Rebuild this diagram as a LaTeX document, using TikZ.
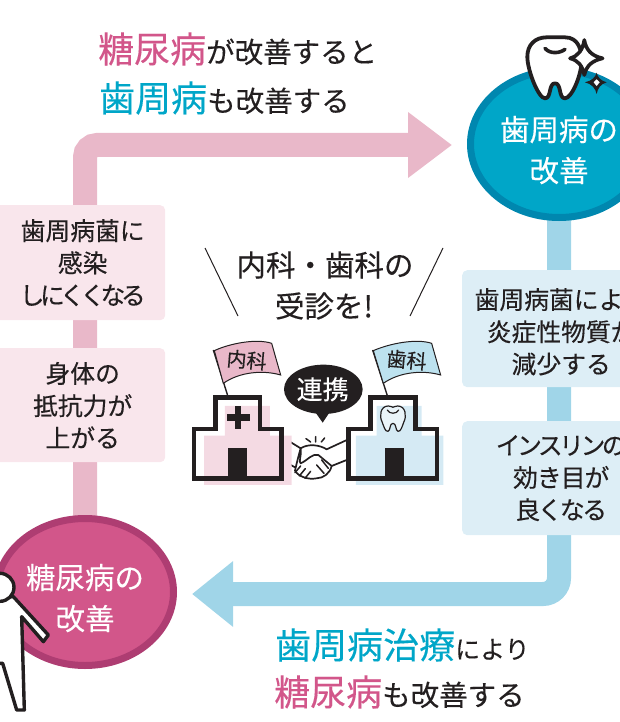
\documentclass[tikz,border=0pt]{standalone}
\usepackage{fontspec}
\setmainfont{Noto Sans CJK JP}[FakeBold=0.25]
\usetikzlibrary{shapes.geometric,arrows.meta,backgrounds,calc}
\definecolor{ink}{HTML}{231F20}
\definecolor{rosefill}{HTML}{D2568A}
\definecolor{roseedge}{HTML}{AE3D72}
\definecolor{roseband}{HTML}{E9B8C9}
\definecolor{rosebox}{HTML}{F9E6EC}
\definecolor{rosetint}{HTML}{F4DAE3}
\definecolor{tealfill}{HTML}{00A6C8}
\definecolor{tealedge}{HTML}{0087AF}
\definecolor{tealband}{HTML}{A0D5E8}
\definecolor{tealbox}{HTML}{DDEEF6}
\definecolor{tealtint}{HTML}{D5EAF4}
\newcommand{\fs}[1]{\fontsize{#1}{#1}\selectfont}
\newcommand{\narrow}[2]{{\addfontfeature{LetterSpace=#1}#2}}
\tikzset{
  x=1pt,y=-1pt,
  blob/.style={ellipse,draw,line width=7pt,minimum width=177pt,minimum height=147pt,inner sep=0pt,
    text=white,align=center,font=\fs{29.5}\linespread{1.39}\selectfont},
  infobox/.style={rounded corners=5pt,inner sep=0pt,text=ink,align=center,anchor=north west,
    font=\fs{24.8}\linespread{1.3}\selectfont},
  headline/.style={anchor=west,inner sep=0pt,text=ink,font=\fs{28.5}},
  centre/.style={inner sep=0pt,text=ink,font=\fs{29.5}},
  band/.style={line width=24pt},
  thick line/.style={draw=ink,line width=4.6pt,line join=miter},
  icon/.style={draw=ink,line width=1.6pt,line join=round,line cap=round},
}
\begin{document}
\begin{tikzpicture}
\useasboundingbox (0,0) rectangle (619,722);

% Result circles
\node[blob,draw=tealedge,fill=tealfill] (perio) at (559,144) {\rule{0pt}{37pt}歯周病の\\改善};
\node[blob,draw=roseedge,fill=rosefill] (diab) at (85,592) {\rule{0pt}{37pt}糖尿病の\\改善};

% Explanation panels
\node[infobox,fill=rosebox,minimum width=170pt,minimum height=115pt] (pa) at (-5,205)
  {\hspace*{5pt}歯周病菌に\\\hspace*{5pt}感染\\\hspace*{5pt}\narrow{-18}{しにくくなる}};
\node[infobox,fill=rosebox,minimum width=170pt,minimum height=114pt] (pb) at (-5,348)
  {\hspace*{5pt}身体の\\\hspace*{5pt}抵抗力が\\\hspace*{5pt}上がる};
\node[infobox,fill=tealbox,minimum width=198pt,minimum height=117pt] (ba) at (462,270)
  {\rule{0pt}{27pt}歯周病菌により\\炎症性物質が\\減少する};
\node[infobox,fill=tealbox,minimum width=198pt,minimum height=114pt] (bb) at (462,421)
  {\narrow{-14}{インスリンの}\\\narrow{-4}{効き目が}\\\narrow{-10}{良くなる}};

% Cycle arrows behind the circles and panels
\coordinate (rosetip) at (452,145);
\coordinate (tealtip) at (192,594);
\begin{scope}[on background layer]
  \draw[band,rounded corners=12pt,draw=roseband,-{Triangle[length=44pt,width=63pt]}] (diab.center) |- (rosetip);
  \draw[band,rounded corners=16pt,draw=tealband,-{Triangle[length=41pt,width=63pt]}] (perio.center) |- (tealtip);
\end{scope}

% Headlines
\node[headline] (h1) at (98,49) {\textcolor{rosefill}{\fs{36}糖尿病}が改善すると};
\node[headline] (h2) at (99,98) {\textcolor{tealfill}{\fs{36}歯周病}も改善する};
\node[headline] (h3) at (275,645) {\textcolor{tealfill}{\fs{36}歯周病治療}{\fs{25}により}};
\node[headline] (h4) at (274,692) {\textcolor{rosefill}{\fs{36}糖尿病}も改善する};

% Centre message
\node[centre] (m1) at (325,265) {内科\narrow{-25}{・}歯科の};
\node[centre] (m2) at (324,306) {受診を!};
\coordinate (la) at (205,248); \coordinate (lb) at (238,316);
\coordinate (ra) at (443,248); \coordinate (rb) at (410,316);
\draw[ink,line width=1pt] (la) -- (lb);
\draw[ink,line width=1pt] (ra) -- (rb);

% Clinics, flags, speech bubble and handshake
\begin{scope}[shift={(180,230)},x=0.3333pt,y=-0.3333pt]
  % arms meeting in the middle
  \draw[icon,line width=1.7pt] (305,620) -- (362,655) .. controls (385,640) and (420,645) .. (440,658) -- (505,628);
  \draw[icon,line width=1.7pt] (305,690) -- (345,712);
  \draw[icon,line width=1.7pt] (505,688) -- (455,708);
  \draw[icon,line width=1.7pt,fill=white]
    (362,655) .. controls (365,680) and (355,695) .. (362,700)
    .. controls (385,690) and (395,670) .. (415,675)
    -- (455,708) .. controls (450,730) and (430,745) .. (410,745)
    .. controls (385,750) and (355,740) .. (345,722)
    .. controls (350,700) and (355,680) .. (362,655) -- cycle;
  \draw[icon,line width=1.5pt] (362,708) -- (345,728) (376,716) -- (358,738) (392,724) -- (375,745);
  \draw[icon,line width=1.5pt] (425,690) -- (445,715) (410,705) -- (432,730);
  \draw[icon,line width=1.5pt] (378,626) -- (392,636) (407,620) -- (407,636) (434,624) -- (424,636);

  % tinted shadows of the buildings
  \fill[rosetint] (72,765) -- (72,617) -- (135,617) -- (135,528) -- (270,528) -- (270,617) -- (335,617) -- (335,765) -- cycle;
  \fill[tealtint] (528,765) -- (528,617) -- (590,617) -- (590,528) -- (725,528) -- (725,617) -- (790,617) -- (790,765) -- cycle;

  % flag poles
  \draw[ink,line width=1.4pt] (100,360) -- (145,503);
  \draw[ink,line width=1.4pt] (578,360) -- (624,503);

  % building outlines and doors
  \draw[thick line] (42,745) -- (42,597) -- (107,597) -- (107,503) -- (240,503) -- (240,597) -- (305,597) -- (305,745) -- cycle;
  \draw[thick line] (505,745) -- (505,597) -- (572,597) -- (572,503) -- (706,503) -- (706,597) -- (771,597) -- (771,745) -- cycle;
  \fill[ink] (143,655) rectangle (200,745);
  \fill[ink] (614,655) rectangle (671,745);
  % cross sign
  \fill[ink] (165,528) rectangle (184,597);
  \fill[ink] (140,553) rectangle (209,572);
  % tooth sign
  \draw[icon,line width=1.2pt,fill=white,fill opacity=0.5]
    (625,528) .. controls (600,528) and (598,560) .. (606,575)
    .. controls (612,590) and (615,605) .. (624,604)
    .. controls (632,603) and (628,580) .. (639,580)
    .. controls (650,580) and (646,603) .. (654,604)
    .. controls (663,605) and (666,590) .. (672,575)
    .. controls (680,560) and (678,528) .. (653,528)
    .. controls (645,528) and (640,532) .. (639,532)
    .. controls (638,532) and (633,528) .. (625,528) -- cycle;
  \draw[icon,line width=1.2pt] (622,540) .. controls (628,553) and (650,553) .. (656,540);

  % flags
  \draw[ink,line width=1pt,fill=roseband] (103,362) .. controls (150,340) and (230,325) .. (275,340)
    -- (302,435) .. controls (250,420) and (180,425) .. (130,460) -- cycle;
  \draw[ink,line width=1pt,fill=tealband!70!white] (580,362) .. controls (630,340) and (710,325) .. (755,340)
    -- (782,435) .. controls (730,420) and (660,425) .. (610,460) -- cycle;
  \node[rotate=-5,inner sep=0pt,text=ink,font=\fs{20}] (fa) at (200,390) {内科};
  \node[rotate=-5,inner sep=0pt,text=ink,font=\fs{20}] (fb) at (680,390) {歯科};

  % speech bubble
  \fill[ink] (430,478) ellipse [x radius=118,y radius=74];
  \fill[ink] (405,545) -- (428,578) -- (450,545) -- cycle;
  \node[inner sep=0pt,text=white,font=\fs{26}] (bub) at (428,478) {連携};
\end{scope}

% Tooth with sparkles on the upper circle
\begin{scope}[shift={(450,20)},x=0.3333pt,y=-0.3333pt]
  \draw[ink,line width=3.8pt,fill=white,line join=round]
    (290,52) -- (345,52) .. controls (385,52) and (395,90) .. (395,120)
    .. controls (395,165) and (365,235) .. (345,235)
    .. controls (325,235) and (335,190) .. (315,190)
    .. controls (295,190) and (305,235) .. (285,235)
    .. controls (265,235) and (232,150) .. (232,110)
    .. controls (232,75) and (255,52) .. (290,52) -- cycle;
  \draw[ink,line width=3.6pt,line cap=round] (285,85) .. controls (300,103) and (330,100) .. (345,88);
  \draw[ink,line width=3.6pt,fill=white,line join=round]
    (403,60) .. controls (408,90) and (425,108) .. (458,115)
    .. controls (428,122) and (410,135) .. (403,165)
    .. controls (396,135) and (385,122) .. (360,115)
    .. controls (385,108) and (398,90) .. (403,60) -- cycle;
  \fill[ink] (440,158) .. controls (443,172) and (452,182) .. (470,187)
    .. controls (452,192) and (443,205) .. (440,222)
    .. controls (436,205) and (426,192) .. (405,187)
    .. controls (426,182) and (436,172) .. (440,158) -- cycle;
  \fill[white] (440,178) -- (449,187) -- (440,198) -- (431,187) -- cycle;
\end{scope}

% Standing figure at the lower left
\begin{scope}[shift={(0,500)},x=0.3333pt,y=-0.3333pt]
  \draw[ink,line width=3.4pt,fill=white,line join=round]
    (-40,290) -- (40,290) -- (145,405) -- (130,425) -- (65,350) -- (73,630) -- (50,630) -- (8,490) -- (-40,490) -- cycle;
  \draw[ink,line width=3.4pt,fill=white] (0,262) circle [radius=42];
\end{scope}
\end{tikzpicture}
\end{document}
